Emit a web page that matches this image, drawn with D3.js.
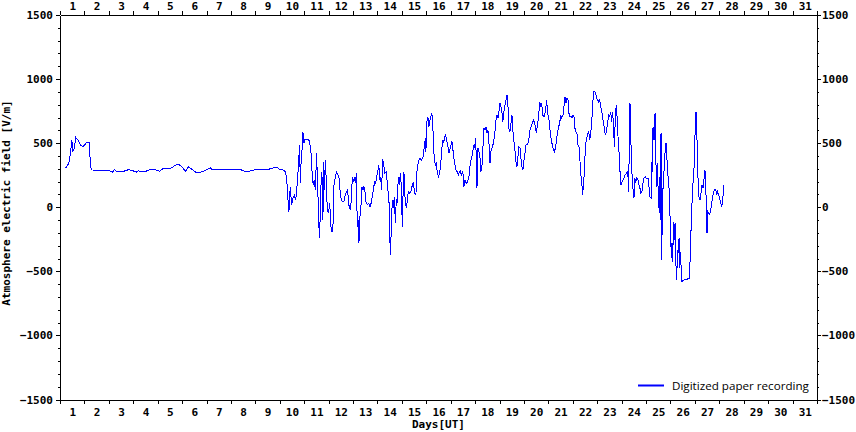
<!DOCTYPE html>
<html><head><meta charset="utf-8">
<script src="https://cdn.jsdelivr.net/npm/d3@7"></script>
<style>
body{margin:0;background:#fff}
.ax text{font-family:"DejaVu Sans Mono",monospace;font-weight:bold;font-size:11px;fill:#000}
.ax path,.ax line{stroke:#000;stroke-width:1;shape-rendering:crispEdges}
</style>
</head><body><svg id="c" width="856" height="432"></svg>
<script>
// ---- data ----
const dayLabels = d3.range(1, 32).map(String);
const yTickValues = [-1500, -1000, -500, 0, 500, 1000, 1500];
const seriesName = "Digitized paper recording";
const xTitle = "Days[UT]";
const yTitle = "Atmosphere electric field [V/m]";
// time in hours since start of day 1 (UT)
const hours = [
4.4,6.7,8.7,10.3,11.6,12.6,14.0,15.5,17.5,20.2,22.4,25.1,26.3,28.7,29.3,30.7,48.7,51.3,53.6,55.8,
61.2,67.3,71.6,74.9,77.2,79.8,83.1,89.7,94.6,97.8,101.8,109.3,112.6,115.8,119.2,123.4,126.0,129.0,133.2,138.8,
143.7,147.7,149.0,173.2,178.2,183.1,188.0,192.9,204.3,207.6,212.6,215.8,219.1,221.7,223.0,224.0,225.0,226.3,227.6,228.9,
230.3,231.5,232.2,233.5,234.2,234.8,235.5,236.2,236.7,237.7,238.7,239.7,240.7,244.0,245.3,246.6,248.0,248.9,249.9,250.9,
252.2,253.2,254.2,254.8,255.8,256.4,257.4,258.4,259.1,260.0,260.7,261.7,262.7,264.0,265.0,265.9,266.6,268.2,268.9,270.2,
271.6,273.1,274.1,275.8,277.4,279.0,280.0,281.4,282.7,283.9,285.3,286.3,287.3,288.3,289.3,290.5,291.2,292.2,293.2,293.8,
294.8,295.7,296.7,297.7,298.7,299.7,300.7,302.0,303.3,304.6,306.0,306.9,308.2,309.2,310.2,311.5,312.5,313.4,314.1,315.1,
316.1,317.1,318.1,319.3,320.7,322.3,323.3,324.0,324.6,325.6,326.6,327.6,328.6,329.6,330.5,331.5,332.5,333.5,334.5,335.5,
336.4,337.0,338.0,339.0,340.4,341.4,342.3,343.6,344.9,346.3,347.3,348.5,349.8,350.8,352.2,353.4,355.1,356.7,358.1,359.1,
359.6,360.6,361.6,362.6,364.0,365.2,366.2,366.9,367.9,368.9,369.9,370.8,372.1,373.1,374.1,375.1,376.1,377.0,378.0,379.0,
380.0,381.0,382.3,383.2,384.2,385.2,386.2,387.2,388.2,389.1,390.5,391.5,392.5,393.5,394.4,395.4,396.4,397.0,398.0,399.4,
400.6,401.9,402.9,403.9,405.3,406.5,407.5,408.5,409.2,409.8,410.8,411.7,412.7,413.7,414.7,415.7,416.7,417.6,418.6,419.6,
420.6,421.6,422.6,423.5,424.5,425.9,427.2,428.5,429.4,430.4,431.4,432.4,433.4,434.4,435.3,436.3,437.3,438.3,439.3,440.3,
441.2,442.2,443.2,444.2,445.2,446.2,447.1,448.1,449.1,450.1,451.1,452.1,453.0,454.0,455.0,456.0,457.0,458.0,459.3,460.6,
461.6,462.9,464.2,465.5,466.8,468.2,469.2,470.4,471.4,472.4,473.4,474.4,475.7,477.0,478.3,479.3,480.6,481.9,483.2,484.5,
485.9,486.9,488.8,490.1,491.1,492.1,493.1,494.3,495.3,496.3,497.3,498.3,499.3,500.2,501.2,502.2,503.2,504.2,505.2,506.1,
507.1,508.1,509.1,510.1,511.1,512.0,513.0,513.7,514.4,515.4,516.4,517.3,518.6,519.6,520.6,521.6,522.6,523.5,524.5,525.5,
526.5,527.5,528.5,529.4,530.4,531.4,532.4,533.4,534.4,535.3,536.3,537.3,538.3,539.3,540.3,541.2,542.2,543.2,544.2,544.9,
545.9,546.8,547.8,548.8,549.4,550.4,551.4,552.4,553.3,554.3,555.3,556.7,558.0,558.9,559.6,560.2,560.9,561.6,562.6,563.5,
564.1,564.8,565.8,566.8,568.1,569.1,570.0,571.0,572.0,573.0,574.0,575.0,576.3,577.9,578.9,579.9,580.9,581.5,581.8,582.5,
582.8,583.5,583.8,584.8,585.5,586.2,586.8,587.4,588.1,589.1,589.7,590.4,590.7,591.4,592.1,593.0,593.6,594.6,595.6,596.3,
597.0,598.0,598.9,599.9,600.9,601.5,602.2,602.9,603.5,604.5,605.1,605.8,606.4,607.1,607.8,608.4,609.1,609.8,610.4,611.3,
613.3,616.0,618.6,619.6,620.6,621.6,622.5,623.5,624.1,625.1,625.8,626.5,627.5,628.0,629.0,630.0,631.0,632.0,633.0,633.9,
634.9,635.3,635.9,636.6,637.6,638.5,639.5,640.5,641.5,642.5,643.5,644.5,645.5,646.4,647.4,648.4,649.4,650.4,651.0,652.1,
652.6
];
// atmospheric electric field, V/m
const fieldValues = [
304,316,347,421,525,434,460,545,525,486,472,493,509,509,408,291,285,273,293,277,
277,293,285,273,285,277,277,296,291,280,306,306,324,337,322,280,316,301,275,275,
291,309,296,296,291,277,285,296,296,301,314,296,291,277,199,70,-35,160,18,70,
96,57,88,226,304,395,486,187,316,421,590,499,530,530,512,434,239,174,213,135,
421,160,-47,-242,-74,160,277,-99,355,135,369,213,-21,-47,31,-74,-191,-191,160,213,
277,252,239,82,43,43,82,122,135,18,-21,57,239,199,226,187,265,-152,-99,-281,
-74,-8,160,135,160,122,43,18,31,4,37,82,148,199,187,252,291,330,213,239,
135,374,330,265,277,135,57,-152,-373,-177,57,-8,82,-126,57,43,239,174,265,160,
-152,57,277,82,-8,57,122,109,122,174,199,109,96,277,355,382,369,387,472,537,
434,668,706,628,694,733,694,525,369,330,350,265,239,265,330,434,525,499,551,564,
525,486,421,447,486,512,447,382,330,291,277,252,273,283,252,273,252,160,213,187,
199,239,316,369,408,486,460,537,369,148,460,434,395,277,316,472,616,603,628,577,
603,499,343,434,460,499,564,681,720,694,746,811,785,733,668,746,798,837,876,785,
616,590,655,720,590,512,447,356,316,395,472,460,382,316,291,369,421,486,486,512,
590,628,655,681,642,577,642,706,823,785,811,720,706,746,837,733,681,577,512,460,
434,460,577,628,655,720,699,714,785,862,811,850,837,733,706,714,694,720,706,616,
590,577,486,472,356,252,174,96,174,277,486,525,577,590,525,577,668,798,901,901,
889,850,837,823,837,785,759,694,655,590,564,603,668,720,706,746,668,746,590,472,
733,798,668,486,434,277,174,199,213,226,252,265,277,122,564,811,564,382,174,122,
70,226,199,226,213,174,148,109,122,187,226,239,226,226,156,82,70,109,356,277,
616,628,525,733,447,160,343,252,70,-47,239,-99,577,-411,82,187,277,421,499,421,
291,213,109,-164,-398,-281,-424,-112,-255,-125,-346,-567,-476,-333,-359,-242,-476,-346,-463,-580,
-567,-562,-554,-346,-60,109,239,343,564,746,642,343,135,82,57,109,174,148,226,291,
109,-112,-203,-35,-47,-55,-21,31,82,122,135,140,96,122,96,70,31,4,43,122,
174
];
const data = hours.map((h, i) => ({h, v: fieldValues[i]}));

// ---- layout ----
const svg = d3.select("#c");
const L = 60, R = 817, T = 15, B = 399.5;
const totalHours = dayLabels.length * 24;
const x = d3.scaleLinear().domain([0, totalHours]).range([L, R]);
const y = d3.scaleLinear().domain([-1500, 1500]).range([B, T]);
const boundaries = d3.range(0, totalHours + 1, 24);
const centers = dayLabels.map((d, i) => i * 24 + 12);
const minor = d3.range(-1500, 1501, 100);

// bottom
svg.append("g").attr("class", "ax").attr("transform", `translate(0,${B})`)
  .call(d3.axisBottom(x).tickValues(boundaries).tickSize(4).tickSizeOuter(0).tickFormat(""));
svg.append("g").attr("class", "ax lbl").attr("transform", `translate(0,${B})`)
  .call(d3.axisBottom(x).tickValues(centers).tickSize(0).tickPadding(9).tickFormat((d, i) => dayLabels[i]))
  .call(g => g.select(".domain").remove());
// top
svg.append("g").attr("class", "ax").attr("transform", `translate(0,${T})`)
  .call(d3.axisTop(x).tickValues(boundaries).tickSize(4).tickSizeOuter(0).tickFormat(""));
svg.append("g").attr("class", "ax lbl").attr("transform", `translate(0,${T})`)
  .call(d3.axisTop(x).tickValues(centers).tickSize(0).tickPadding(5.5).tickFormat((d, i) => dayLabels[i]))
  .call(g => g.select(".domain").remove());
// left
svg.append("g").attr("class", "ax").attr("transform", `translate(${L},0)`)
  .call(d3.axisLeft(y).tickValues(minor).tickSize(2).tickSizeOuter(0).tickFormat(""));
svg.append("g").attr("class", "ax").attr("transform", `translate(${L},0)`)
  .call(d3.axisLeft(y).tickValues(yTickValues).tickSize(4).tickSizeOuter(0).tickPadding(3).tickFormat(d3.format("d")));
// right
svg.append("g").attr("class", "ax").attr("transform", `translate(${R},0)`)
  .call(d3.axisRight(y).tickValues(minor).tickSize(2).tickSizeOuter(0).tickFormat(""));
svg.append("g").attr("class", "ax").attr("transform", `translate(${R},0)`)
  .call(d3.axisRight(y).tickValues(yTickValues).tickSize(4).tickSizeOuter(0).tickPadding(1).tickFormat(d3.format("d")));
svg.selectAll(".ax text").attr("font-family", "DejaVu Sans Mono").attr("font-weight", "bold");

// titles
svg.append("text").attr("x", (L + R) / 2).attr("y", 428).attr("text-anchor", "middle")
  .attr("font-family", "DejaVu Sans Mono").attr("font-weight", "bold").attr("font-size", 11)
  .text(xTitle);
svg.append("text").attr("transform", `translate(9.5,203) rotate(-90)`).attr("text-anchor", "middle")
  .attr("font-family", "DejaVu Sans Mono").attr("font-weight", "bold").attr("font-size", 11)
  .text(yTitle);

// series
svg.append("path").datum(data)
  .attr("fill", "none").attr("stroke", "#0000ff").attr("stroke-width", 1)
  .attr("shape-rendering", "crispEdges")
  .attr("d", d3.line().x(d => x(d.h)).y(d => y(d.v)));

// legend
svg.append("line").attr("x1", 638).attr("x2", 664).attr("y1", 385.5).attr("y2", 385.5)
  .attr("stroke", "#0000ff").attr("stroke-width", 2);
const lt = svg.append("text").attr("x", 672).attr("y", 389.5)
  .attr("font-family", "Open Sans").attr("font-size", 11).attr("fill", "#000").text(seriesName);
const len = lt.node().getComputedTextLength();
lt.attr("font-size", (11 * 137 / len).toFixed(2));
</script>
</body></html>
